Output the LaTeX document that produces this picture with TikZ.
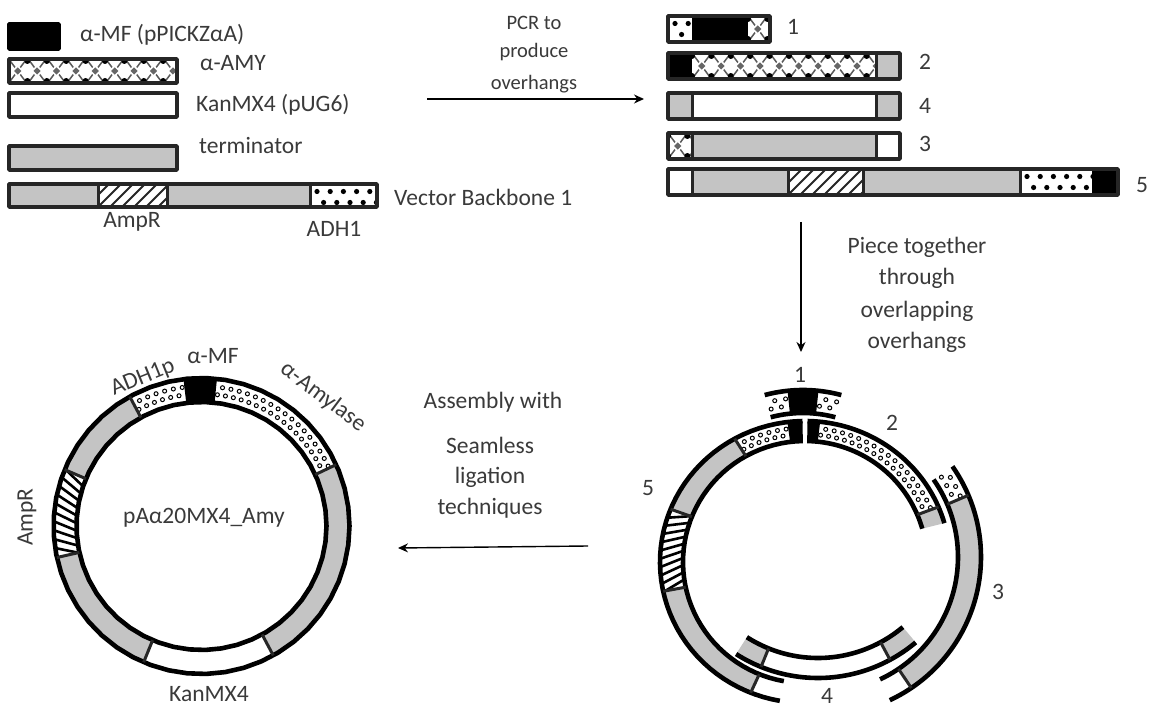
\documentclass[tikz,border=0pt]{standalone}
\usepackage{fontspec}
\setmainfont{Carlito}
\usetikzlibrary{arrows.meta}
\definecolor{txt}{HTML}{3A3A3A}
\definecolor{gband}{HTML}{C4C4C4}
\tikzset{
  lab/.style={font=\fontsize{23.5}{26}\selectfont,text=txt,inner sep=0pt},
  capsmall/.style={font=\fontsize{20.5}{24}\selectfont,text=txt,inner sep=0pt},
  flow/.style={line width=1.4pt,-{Stealth[length=10pt,width=9pt]}},
  outline/.style={draw=black!85,line width=3.8pt,line join=round},
  divider/.style={draw=black!85,line width=3pt},
  rail/.style={draw=black,line width=4.6pt},
}
\newcommand\setring[6]{\def\rgcx{#1}\def\rgcy{#2}\def\rgxo{#3}\def\rgyo{#4}\def\rgxi{#5}\def\rgyi{#6}}
\newcommand\segfill[3]{\fill[#3] plot[domain=#1:#2,samples=40] ({\rgcx+\rgxo*cos(\x)},{\rgcy-\rgyo*sin(\x)}) -- plot[domain=#2:#1,samples=40] ({\rgcx+\rgxi*cos(\x)},{\rgcy-\rgyi*sin(\x)}) -- cycle;}
\newcommand\rails[2]{\draw[rail] plot[domain=#1:#2,samples=50] ({\rgcx+\rgxo*cos(\x)},{\rgcy-\rgyo*sin(\x)});
  \draw[rail] plot[domain=#1:#2,samples=50] ({\rgcx+\rgxi*cos(\x)},{\rgcy-\rgyi*sin(\x)});}
\newcommand\sepline[1]{\draw[divider] ({\rgcx+\rgxo*cos(#1)},{\rgcy-\rgyo*sin(#1)}) -- ({\rgcx+\rgxi*cos(#1)},{\rgcy-\rgyi*sin(#1)});}
% two staggered rows of small open circles along a ring segment
\newcommand\ringdots[3]{\foreach \k in {0,...,#3}{
   \pgfmathsetmacro\ta{#1+(#2-#1)*(\k+0.25)/(#3+1)}
   \pgfmathsetmacro\tb{#1+(#2-#1)*(\k+0.75)/(#3+1)}
   \draw[black,line width=1pt,fill=white] ({\rgcx+(\rgxi+0.66*(\rgxo-\rgxi))*cos(\ta)},{\rgcy-(\rgyi+0.66*(\rgyo-\rgyi))*sin(\ta)}) circle[radius=2pt];
   \draw[black,line width=1pt,fill=white] ({\rgcx+(\rgxi+0.34*(\rgxo-\rgxi))*cos(\tb)},{\rgcy-(\rgyi+0.34*(\rgyo-\rgyi))*sin(\tb)}) circle[radius=2pt];
}}
% #4 is the slant of the stripes, in degrees of arc
\newcommand\ringhatch[4]{\foreach \k in {1,...,#3}{
   \pgfmathsetmacro\ta{#1+(#2-#1)*(\k-0.5)/#3}
   \draw[black,line width=2.6pt] ({\rgcx+\rgxo*cos(\ta+#4)},{\rgcy-\rgyo*sin(\ta+#4)}) -- ({\rgcx+\rgxi*cos(\ta-#4)},{\rgcy-\rgyi*sin(\ta-#4)});
}}
% bar patterns
\newcommand\amyfill[4]{\begin{scope}
  \clip (#1,#2) rectangle (#3,#4);
  \fill[white] (#1,#2) rectangle (#3,#4);
  \pgfmathsetmacro\ymid{(#2+#4)/2}
  \foreach \k in {0,...,12}{
    \pgfmathsetmacro\px{#1+\k*19.4}
    \pgfmathsetmacro\py{\px+9.7}
    \pgfmathsetmacro\pz{\px+19.4}
    \draw[black!65,line width=1.5pt] (\px,{#2}) -- (\py,\ymid) -- (\px,{#4});
    \draw[black!65,line width=1.5pt] (\pz,{#2}) -- (\py,\ymid) -- (\pz,{#4});
    \fill[white] (\py-6,\ymid) -- (\py,\ymid-6) -- (\py+6,\ymid) -- (\py,\ymid+6) -- cycle;
    \fill[black!60] (\py-3.6,\ymid) -- (\py,\ymid-3.6) -- (\py+3.6,\ymid) -- (\py,\ymid+3.6) -- cycle;
    \fill[black] (\px,{#2+3}) circle[radius=3pt];
    \fill[black] (\px,{#4-3}) circle[radius=3pt];
  }
  \end{scope}}
\newcommand\ptfill[4]{\begin{scope}
  \clip (#1,#2) rectangle (#3,#4);
  \fill[white] (#1,#2) rectangle (#3,#4);
  \foreach \k in {0,...,6}{
    \fill[black] ({#1+7+\k*13.2},{#2+7.5}) circle[radius=2.6pt];
    \fill[black] ({#1+13.6+\k*13.2},{#2+18.5}) circle[radius=2.6pt];
  }
  \end{scope}}
\newcommand\slantfill[4]{\begin{scope}
  \clip (#1,#2) rectangle (#3,#4);
  \fill[white] (#1,#2) rectangle (#3,#4);
  \foreach \k in {-3,...,9}{
    \draw[black!85,line width=1.8pt] ({#1+\k*12},#4) -- ({#1+\k*12+(#4-#2)},#2);
  }
  \end{scope}}
\begin{document}
\begin{tikzpicture}[x=1pt,y=-1pt]
\useasboundingbox (0,0) rectangle (1154,708);
\fill[white] (0,0) rectangle (1154,708);

% ---- left parts
\draw[outline,draw=black,fill=black] (9,24) rectangle (59,49);
\amyfill{8}{58}{178}{84}
\draw[outline] (9,59) rectangle (177,83);
\draw[outline,fill=white] (9,93) rectangle (177,117);
\draw[outline,fill=gband] (9,146) rectangle (177,170);
\fill[gband] (9,184) rectangle (377,207);
\slantfill{98}{184}{167}{207}
\ptfill{310}{184}{377}{207}
\draw[divider] (98,184) -- (98,207);
\draw[divider] (167,184) -- (167,207);
\draw[divider] (310,184) -- (310,207);
\draw[outline] (9,184) rectangle (377,207);

\node[lab,anchor=west] (t1) at (80,35) {α-MF (pPICKZαA)};
\node[lab,anchor=west] (t2) at (200,63) {α-AMY};
\node[lab,anchor=west] (t3) at (196,105) {KanMX4 (pUG6)};
\node[lab,anchor=west] (t4) at (199,146) {terminator};
\node[lab,anchor=west] (t5) at (394,197) {Vector Backbone 1};
\node[lab] (t6) at (132,222) {AmpR};
\node[lab] (t7) at (334,229) {ADH1};

% ---- right parts
\ptfill{668}{16}{692}{42}
\fill[black] (692,16) rectangle (748,42);
\amyfill{748}{16}{770}{42}
\draw[outline] (668,16) rectangle (770,42);

\fill[black] (668,53) rectangle (692,79);
\amyfill{692}{53}{876}{79}
\fill[gband] (876,53) rectangle (900,79);
\draw[divider] (876,53) -- (876,79);
\draw[outline] (668,53) rectangle (900,79);

\fill[gband] (668,93) rectangle (692,119);
\fill[white] (692,93) rectangle (876,119);
\fill[gband] (876,93) rectangle (900,119);
\draw[divider] (692,93) -- (692,119);
\draw[divider] (876,93) -- (876,119);
\draw[outline] (668,93) rectangle (900,119);

\amyfill{668}{133}{692}{159}
\fill[gband] (692,133) rectangle (876,159);
\fill[white] (876,133) rectangle (900,159);
\draw[divider] (692,133) -- (692,159);
\draw[divider] (876,133) -- (876,159);
\draw[outline] (668,133) rectangle (900,159);

\fill[white] (668,169) rectangle (692,195);
\fill[gband] (692,169) rectangle (788,195);
\slantfill{788}{169}{863}{195}
\fill[gband] (863,169) rectangle (1020,195);
\ptfill{1020}{169}{1092}{195}
\fill[black] (1092,169) rectangle (1118,195);
\foreach \dx in {692,788,863,1020}{\draw[divider] (\dx,169) -- (\dx,195);}
\draw[outline] (668,169) rectangle (1118,195);

\node[lab] (n1) at (793,27) {1};
\node[lab] (n2) at (925,62) {2};
\node[lab] (n4) at (925,106) {4};
\node[lab] (n3) at (925,144) {3};
\node[lab] (n5) at (1142,185) {5};

% ---- flow arrows and their captions
\coordinate (a1s) at (427,99);
\coordinate (a1e) at (644,99);
\draw[flow] (a1s) -- (a1e);
\coordinate (a2s) at (801,222);
\coordinate (a2e) at (801,352);
\draw[flow] (a2s) -- (a2e);
\coordinate (a3s) at (588,546);
\coordinate (a3e) at (398,548);
\draw[flow] (a3s) -- (a3e);

\node[capsmall] (c1) at (534,23) {PCR to};
\node[capsmall] (c2) at (534,52) {produce};
\node[capsmall] (c3) at (534,84) {overhangs};
\node[lab] (c4) at (917,247) {Piece together};
\node[lab] (c5) at (917,278) {through};
\node[lab] (c6) at (917,311) {overlapping};
\node[lab] (c7) at (917,342) {overhangs};
\node[lab] (c8) at (493,402) {Assembly with};
\node[lab] (c9) at (490,445) {Seamless};
\node[lab] (c10) at (490,477) {ligation};
\node[lab] (c11) at (490,508) {techniques};

% ---- finished plasmid
\setring{201.5}{526}{148}{148}{125}{124}
\segfill{0}{360}{white}
\segfill{84}{97}{black}
\segfill{119}{157.6}{gband}
\segfill{192.3}{247}{gband}
\segfill{299}{384.5}{gband}
\ringdots{97}{119}{5}
\ringdots{24.5}{84}{16}
\ringhatch{157.6}{192.3}{10}{-2}
\rails{0}{360}
\foreach \ang in {24.5,119,157.6,192.3,247,299}{\sepline{\ang}}
\node[lab] (p0) at (204,518) {pAα20MX4\_Amy};
\node[lab] (p1) at (213,356) {α-MF};
\node[lab,rotate=22] (p2) at (143,378) {ADH1p};
\node[lab,rotate=-37] (p3) at (323,397) {α-Amylase};
\node[lab,rotate=90] (p4) at (27,517) {AmpR};
\node[lab] (p5) at (209,694) {KanMX4};

% ---- overlapping fragments
% piece 5
\setring{805}{562}{145}{141}{122}{121}
\segfill{91}{97}{black}
\segfill{119}{158}{gband}
\segfill{192}{248}{gband}
\ringdots{97}{119}{5}
\ringhatch{158}{192}{10}{2}
\rails{91}{260}
\foreach \ang in {119,158,192,248}{\sepline{\ang}}
% piece 2
\segfill{84}{89}{black}
\segfill{16}{23}{gband}
\ringdots{23}{84}{16}
\rails{16}{89}
\sepline{23}
% piece 3
\setring{823}{557}{158}{158}{135}{135}
\segfill{-56}{23}{gband}
\ringdots{23}{35}{2}
\rails{-65}{35}
\foreach \ang in {-56,23}{\sepline{\ang}}
% piece 4
\setring{818}{526}{152}{152}{132}{132}
\segfill{-122.6}{-112}{gband}
\segfill{-61.7}{-50}{gband}
\rails{-122.6}{-50}
\foreach \ang in {-112,-61.7}{\sepline{\ang}}
% piece 1
\setring{803}{538}{148}{148}{125}{125}
\segfill{84}{96}{black}
\ringdots{96}{105}{1}
\ringdots{75}{84}{1}
\rails{75}{105}

\node[lab] (m1) at (800,375) {1};
\node[lab] (m2) at (892,423) {2};
\node[lab] (m3) at (998,592) {3};
\node[lab] (m4) at (827,696) {4};
\node[lab] (m5) at (648,488) {5};
\end{tikzpicture}
\end{document}
